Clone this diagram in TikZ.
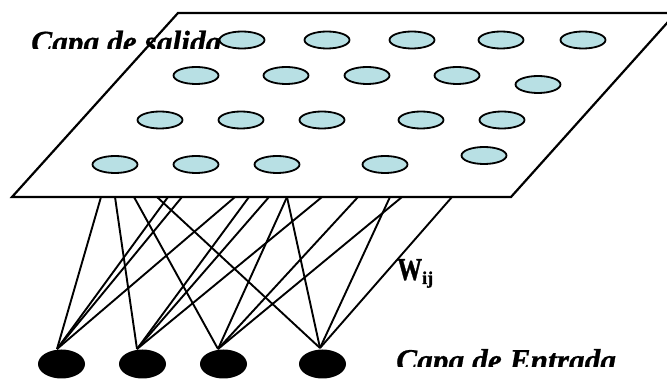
\documentclass[tikz,border=0pt]{standalone}
\usepackage{fontspec}
\setmainfont{Liberation Serif}
\newfontfamily\heavyserif[FakeBold=1.2]{Liberation Serif Bold}
\newfontfamily\heavyitalic[FakeBold=0.7]{Liberation Serif Bold Italic}
\usetikzlibrary{shapes.geometric}
\definecolor{cellblue}{RGB}{184,224,228}
\begin{document}
\begin{tikzpicture}[x=1pt,y=-1pt,
  outcell/.style={ellipse, draw=black, line width=1.8pt, fill=cellblue, minimum width=45pt, minimum height=17pt, inner sep=0pt},
  incell/.style={ellipse, fill=black, minimum width=47pt, minimum height=29pt, inner sep=0pt},
  plane/.style={draw=black, fill=white, line width=2.2pt, line join=miter},
  link/.style={draw=black, line width=1.9pt},
  layerlabel/.style={font=\heavyitalic\fontsize{31.4}{32}\selectfont, inner sep=0pt, anchor=base west}]
\useasboundingbox (0,0) rectangle (667,379);
\clip (0,0) rectangle (667,379);
% output layer plane
\path[plane] (178,13) -- (676,13) -- (511,197) -- (12,197) -- cycle;
% label of the output layer (clipped like the original)
\begin{scope}
  \clip (0,0) rectangle (667,49);
  \node[layerlabel] (salida) at (31,52.5) {Capa de salida};
\end{scope}
% output neurons
\node[outcell] (o11) at (242,40) {};
\node[outcell] (o12) at (327,40) {};
\node[outcell] (o13) at (412,40) {};
\node[outcell] (o14) at (501,40) {};
\node[outcell] (o15) at (583,40) {};
\node[outcell] (o21) at (196,75.5) {};
\node[outcell] (o22) at (286,75.5) {};
\node[outcell] (o23) at (367,75.5) {};
\node[outcell] (o24) at (457,75.5) {};
\node[outcell] (o25) at (538,84.5) {};
\node[outcell] (o31) at (160,120) {};
\node[outcell] (o32) at (241,120) {};
\node[outcell] (o33) at (322,120) {};
\node[outcell] (o34) at (421,120) {};
\node[outcell] (o35) at (502,120) {};
\node[outcell] (o41) at (115,164.5) {};
\node[outcell] (o42) at (196,164.5) {};
\node[outcell] (o43) at (277,164.5) {};
\node[outcell] (o44) at (385,164.5) {};
\node[outcell] (o45) at (484,155.5) {};
% input neurons
\node[incell] (in1) at (61.5,364) {};
\node[incell] (in2) at (142.5,364) {};
\node[incell] (in3) at (223.5,364) {};
\node[incell] (in4) at (322.5,364) {};
% connection ends
\coordinate (a1) at (57,349);
\coordinate (a2) at (137,349);
\coordinate (a3) at (218,349);
\coordinate (a4) at (320,348);
\foreach \x in {101,115,134,157,168,182,235,249,269,287,322,358,390,402,452}
  \coordinate (t\x) at (\x,197);
% weights
\foreach \x in {101,168,182,235} \draw[link] (a1) -- (t\x);
\foreach \x in {115,249,269,322} \draw[link] (a2) -- (t\x);
\foreach \x in {134,287,358,402} \draw[link] (a3) -- (t\x);
\foreach \x in {157,287,390,452} \draw[link] (a4) -- (t\x);
% weight label
\node[anchor=base west, inner sep=0pt] (wij) at (397,280)
  {\heavyserif\fontsize{32}{32}\selectfont\scalebox{0.78}[1]{W}\raisebox{-4pt}{\fontsize{18}{18}\selectfont ij}};
% label of the input layer (clipped like the original)
\begin{scope}
  \clip (0,0) rectangle (667,367);
  \node[layerlabel] (entrada) at (396,370.8) {Capa de Entrada};
\end{scope}
\end{tikzpicture}
\end{document}
